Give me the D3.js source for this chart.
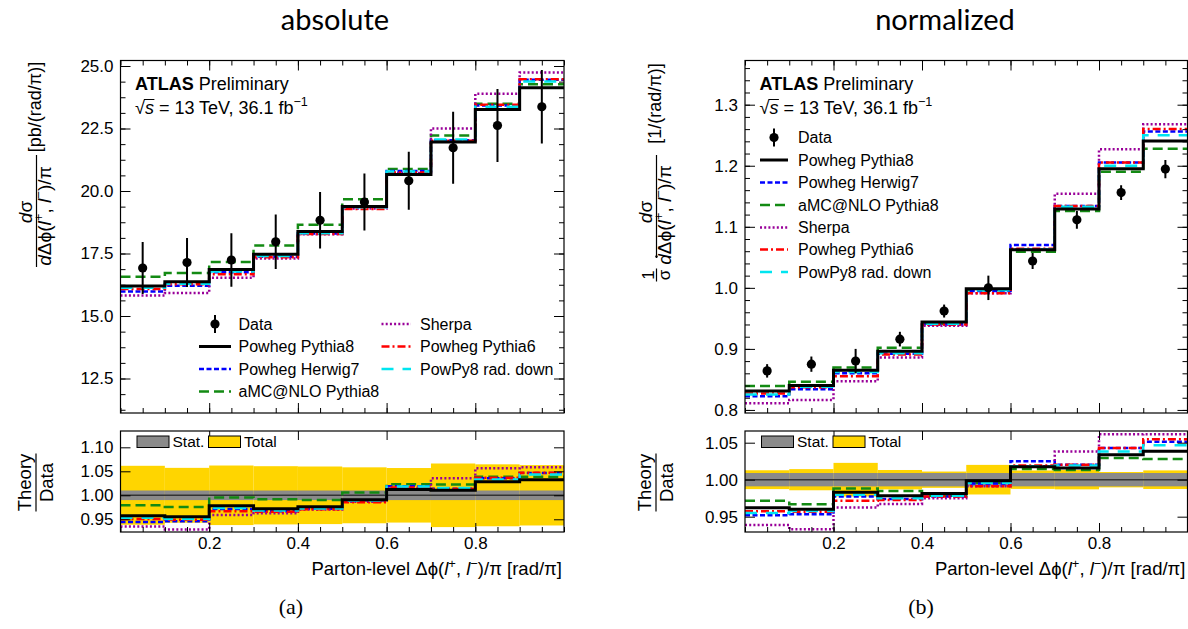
<!DOCTYPE html>
<html>
<head>
<meta charset="utf-8">
<script src="https://cdn.jsdelivr.net/npm/d3@7"></script>
<style>
  html, body { margin: 0; padding: 0; background: #fff; }
  svg { display: block; }
</style>
</head>
<body>
<svg id="fig" width="1188" height="629"></svg>
<script>
// ---- binning and axis ticks ----
const binEdges = [0, 0.1, 0.2, 0.3, 0.4, 0.5, 0.6, 0.7, 0.8, 0.9, 1.0];
const xTickValues = [0.2, 0.4, 0.6, 0.8];
const absYTicks = [12.5, 15.0, 17.5, 20.0, 22.5, 25.0];
const normYTicks = [0.8, 0.9, 1.0, 1.1, 1.2, 1.3];
const absRatioTicks = [0.95, 1.00, 1.05, 1.10];
const normRatioTicks = [0.95, 1.00, 1.05];

const seriesNames = ["Powheg Pythia8", "Powheg Herwig7", "aMC@NLO Pythia8",
                     "Sherpa", "Powheg Pythia6", "PowPy8 rad. down"];

// ---- absolute cross-section [pb/(rad/pi)] ----
const absData          = [16.92, 17.14, 17.24, 17.97, 18.83, 19.56, 20.41, 21.73, 22.62, 23.37];
const absDataErr       = [1.04, 0.98, 1.07, 1.09, 1.13, 1.14, 1.16, 1.44, 1.46, 1.47];
const absStatRel       = [0.010, 0.010, 0.010, 0.010, 0.010, 0.010, 0.010, 0.010, 0.010, 0.010];
const absPowhegPythia8 = [16.20, 16.37, 16.86, 17.47, 18.38, 19.38, 20.66, 21.96, 23.26, 24.13];
const absPowhegHerwig7 = [15.98, 16.21, 16.75, 17.37, 18.30, 19.36, 20.80, 22.03, 23.42, 24.45];
const absAmcPythia8    = [16.57, 16.72, 17.16, 17.82, 18.65, 19.67, 20.88, 22.22, 23.49, 24.27];
const absSherpa        = [15.82, 15.92, 16.53, 17.30, 18.27, 19.30, 20.72, 22.50, 23.89, 24.74];
const absPowhegPythia6 = [16.08, 16.27, 16.67, 17.35, 18.28, 19.28, 20.74, 22.01, 23.45, 24.47];
const absPowPy8RadDown = [16.13, 16.29, 16.78, 17.40, 18.31, 19.35, 20.78, 22.06, 23.37, 24.38];

// ---- normalized cross-section [1/(rad/pi)] ----
const normData          = [0.864, 0.875, 0.880, 0.916, 0.962, 1.000, 1.044, 1.1115, 1.156, 1.1946];
const normDataErr       = [0.011, 0.0125, 0.020, 0.012, 0.0106, 0.020, 0.013, 0.0145, 0.012, 0.015];
const normStatRel       = [0.009, 0.009, 0.009, 0.009, 0.009, 0.009, 0.009, 0.009, 0.009, 0.009];
const normPowhegPythia8 = [0.8312, 0.840, 0.865, 0.896, 0.944, 0.9984, 1.0623, 1.129, 1.195, 1.2405];
const normPowhegHerwig7 = [0.8225, 0.834, 0.860, 0.892, 0.940, 0.995, 1.070, 1.134, 1.2055, 1.256];
const normAmcPythia8    = [0.8393, 0.846, 0.8695, 0.902, 0.941, 0.996, 1.059, 1.126, 1.190, 1.228];
const normSherpa        = [0.811, 0.8164, 0.847, 0.886, 0.938, 0.991, 1.063, 1.154, 1.227, 1.268];
const normPowhegPythia6 = [0.827, 0.837, 0.855, 0.891, 0.940, 0.991, 1.064, 1.134, 1.2055, 1.260];
const normPowPy8RadDown = [0.8252, 0.838, 0.862, 0.893, 0.941, 0.996, 1.063, 1.133, 1.200, 1.250];

// ---- line styles per prediction ----
const seriesStyle = [
  { color: "#000000", dash: null,      width: 3.0 },
  { color: "#0000ff", dash: "5,2.5",   width: 2.5 },
  { color: "#138a13", dash: "10,5",    width: 2.5 },
  { color: "#990099", dash: "2,2.2",   width: 2.5 },
  { color: "#ff0000", dash: "8,3,2,3", width: 2.5 },
  { color: "#00e5f0", dash: "12,9",    width: 2.5 }
];
const drawOrder = [2, 1, 3, 4, 5, 0];

const FONT = "'Liberation Sans', Arial, Helvetica, sans-serif";
const svg = d3.select("#fig").attr("font-family", FONT);

// rich text: segments with italic / superscript pieces
function rich(sel, segs, size) {
  let shift = 0;
  segs.forEach(s => {
    const ts = sel.append("tspan").text(s.t);
    const target = s.sup ? -size * 0.4 : 0;
    if (target !== shift) { ts.attr("dy", target - shift); shift = target; }
    if (s.sup) ts.attr("font-size", size * 0.7);
    if (s.i) ts.attr("font-style", "italic");
    if (s.b) ts.attr("font-weight", "bold");
  });
  return sel;
}

const panels = [
  {
    x0: 120.5, x1: 564, topY: [60.5, 413], ratY: [431, 532],
    yDomain: [11.12, 25.22], rDomain: [0.9235, 1.134],
    yTicks: absYTicks, yMinor: 0.625, yFmt: ".1f",
    rTicks: absRatioTicks,
    data: absData, err: absDataErr, stat: absStatRel,
    series: [absPowhegPythia8, absPowhegHerwig7, absAmcPythia8, absSherpa, absPowhegPythia6, absPowPy8RadDown],
    title: "absolute", titleX: 335, tag: "(a)", tagX: 291, kind: "abs"
  },
  {
    x0: 745, x1: 1187.5, topY: [60.5, 413], ratY: [431, 532],
    yDomain: [0.795, 1.3724], rDomain: [0.9293, 1.0658],
    yTicks: normYTicks, yMinor: 0.02, yFmt: ".1f",
    rTicks: normRatioTicks,
    data: normData, err: normDataErr, stat: normStatRel,
    series: [normPowhegPythia8, normPowhegHerwig7, normAmcPythia8, normSherpa, normPowhegPythia6, normPowPy8RadDown],
    title: "normalized", titleX: 945, tag: "(b)", tagX: 921, kind: "norm"
  }
];

function styleAxis(g, fontSize) {
  g.select(".domain").remove();
  g.selectAll(".tick line").attr("stroke", "#000").attr("stroke-width", 1);
  g.selectAll(".tick text").attr("font-family", FONT).attr("font-size", fontSize).attr("fill", "#000");
  g.attr("font-family", null).attr("font-size", null);
}

function stepPoints(vals) {
  return binEdges.map((e, i) => [e, vals[Math.min(i, vals.length - 1)]]);
}

function minorRange(domain, step) {
  const s = Math.ceil(domain[0] / step - 1e-9), e = Math.floor(domain[1] / step + 1e-9);
  return d3.range(s, e + 1).map(k => +(k * step).toFixed(6));
}

panels.forEach((p, pi) => {
  const x = d3.scaleLinear().domain([0, 1]).range([p.x0, p.x1]);
  const y = d3.scaleLinear().domain(p.yDomain).range([p.topY[1], p.topY[0]]);
  const r = d3.scaleLinear().domain(p.rDomain).range([p.ratY[1], p.ratY[0]]);
  const g = svg.append("g");

  // panel title and tag
  g.append("text").attr("x", p.titleX).attr("y", 30).attr("text-anchor", "middle")
    .attr("font-family", "Lato, 'Open Sans', sans-serif").attr("font-size", 29).text(p.title);
  g.append("text").attr("x", p.tagX).attr("y", 614).attr("text-anchor", "middle")
    .attr("font-family", "'Liberation Serif', 'Times New Roman', serif").attr("font-size", 22).text(p.tag);

  // clip regions
  const clipTop = "clipTop" + pi, clipRat = "clipRat" + pi;
  svg.append("clipPath").attr("id", clipTop).append("rect")
    .attr("x", p.x0).attr("y", p.topY[0]).attr("width", p.x1 - p.x0).attr("height", p.topY[1] - p.topY[0]);
  svg.append("clipPath").attr("id", clipRat).append("rect")
    .attr("x", p.x0).attr("y", p.ratY[0]).attr("width", p.x1 - p.x0).attr("height", p.ratY[1] - p.ratY[0]);

  // ======== upper panel ========
  const top = g.append("g");
  const line = d3.line().x(d => x(d[0])).y(d => y(d[1])).curve(d3.curveStepAfter);
  const tl = top.append("g").attr("clip-path", `url(#${clipTop})`);
  drawOrder.forEach(si => {
    const st = seriesStyle[si];
    tl.append("path").attr("d", line(stepPoints(p.series[si])))
      .attr("fill", "none").attr("stroke", st.color).attr("stroke-width", st.width)
      .attr("stroke-dasharray", st.dash).attr("stroke-linejoin", "miter").attr("stroke-linecap", "butt");
  });
  // data points with total uncertainty
  const centers = p.data.map((v, i) => (binEdges[i] + binEdges[i + 1]) / 2);
  tl.selectAll("line.err").data(p.data).join("line")
    .attr("x1", (d, i) => x(centers[i])).attr("x2", (d, i) => x(centers[i]))
    .attr("y1", (d, i) => y(d - p.err[i])).attr("y2", (d, i) => y(d + p.err[i]))
    .attr("stroke", "#000").attr("stroke-width", 2);
  tl.selectAll("circle.pt").data(p.data).join("circle")
    .attr("cx", (d, i) => x(centers[i])).attr("cy", d => y(d)).attr("r", 4.6).attr("fill", "#000");

  // axes of upper panel (ticks inside, mirrored)
  const ax = top.append("g");
  styleAxis(ax.append("g").attr("transform", `translate(${p.x0},0)`)
    .call(d3.axisLeft(y).tickValues(minorRange(p.yDomain, p.yMinor)).tickSize(-5).tickFormat("")), 17);
  styleAxis(ax.append("g").attr("transform", `translate(${p.x0},0)`)
    .call(d3.axisLeft(y).tickValues(p.yTicks).tickSize(-10).tickPadding(7).tickFormat(d3.format(p.yFmt))), 17);
  styleAxis(ax.append("g").attr("transform", `translate(${p.x1},0)`)
    .call(d3.axisRight(y).tickValues(minorRange(p.yDomain, p.yMinor)).tickSize(-5).tickFormat("")), 17);
  styleAxis(ax.append("g").attr("transform", `translate(${p.x1},0)`)
    .call(d3.axisRight(y).tickValues(p.yTicks).tickSize(-10).tickFormat("")), 17);
  [[p.topY[1], d3.axisBottom], [p.topY[0], d3.axisTop]].forEach(([yy, fn]) => {
    styleAxis(ax.append("g").attr("transform", `translate(0,${yy})`)
      .call(fn(x).tickValues(minorRange([0, 1], 0.05)).tickSize(-5).tickFormat("")), 17);
    styleAxis(ax.append("g").attr("transform", `translate(0,${yy})`)
      .call(fn(x).tickValues(xTickValues).tickSize(-10).tickFormat("")), 17);
  });
  top.append("rect").attr("x", p.x0).attr("y", p.topY[0])
    .attr("width", p.x1 - p.x0).attr("height", p.topY[1] - p.topY[0])
    .attr("fill", "none").attr("stroke", "#000").attr("stroke-width", 1.2);

  // ATLAS label
  const lx = p.x0 + 14.5;
  rich(top.append("text").attr("x", lx).attr("y", 89.5).attr("font-size", 18),
       [{ t: "ATLAS", b: true }, { t: " Preliminary" }], 18);
  const en = rich(top.append("text").attr("x", lx).attr("y", 113.5).attr("font-size", 18),
       [{ t: "√" }, { t: "s", i: true }, { t: " = 13 TeV, 36.1 fb" }, { t: "−1", sup: true }], 18);
  const sx0 = en.node().getStartPositionOfChar(1).x, sx1 = en.node().getEndPositionOfChar(1).x;
  top.append("line").attr("x1", sx0 - 1).attr("x2", sx1 + 0.5).attr("y1", 99.5).attr("y2", 99.5)
    .attr("stroke", "#000").attr("stroke-width", 1);

  // legend
  let items;
  if (p.kind === "abs") {
    items = [
      { data: true, lx0: 199, lx1: 231, tx: 238.5, y: 324 },
      { s: 0, lx0: 199, lx1: 231, tx: 238.5, y: 346.5 },
      { s: 1, lx0: 199, lx1: 231, tx: 238.5, y: 369 },
      { s: 2, lx0: 199, lx1: 231, tx: 238.5, y: 391.5 },
      { s: 3, lx0: 381.5, lx1: 411, tx: 420, y: 324 },
      { s: 4, lx0: 381.5, lx1: 411, tx: 420, y: 346.5 },
      { s: 5, lx0: 381.5, lx1: 411, tx: 420, y: 369 }
    ];
  } else {
    const rows = [137.5, 160, 182.5, 205, 227.5, 249.5, 272];
    items = [{ data: true, lx0: 760, lx1: 788, tx: 798, y: rows[0] }]
      .concat(d3.range(6).map(k => ({ s: k, lx0: 760, lx1: 788, tx: 798, y: rows[k + 1] })));
  }
  const lg = top.append("g");
  items.forEach(it => {
    if (it.data) {
      const cx = (it.lx0 + it.lx1) / 2;
      lg.append("line").attr("x1", cx).attr("x2", cx).attr("y1", it.y - 9).attr("y2", it.y + 9)
        .attr("stroke", "#000").attr("stroke-width", 2);
      lg.append("circle").attr("cx", cx).attr("cy", it.y).attr("r", 4.6).attr("fill", "#000");
      lg.append("text").attr("x", it.tx).attr("y", it.y + 5.5).attr("font-size", 16).text("Data");
    } else {
      const st = seriesStyle[it.s];
      lg.append("line").attr("x1", it.lx0).attr("x2", it.lx1).attr("y1", it.y).attr("y2", it.y)
        .attr("stroke", st.color).attr("stroke-width", st.width).attr("stroke-dasharray", st.dash);
      lg.append("text").attr("x", it.tx).attr("y", it.y + 5.5).attr("font-size", 16).text(seriesNames[it.s]);
    }
  });

  // ======== ratio panel ========
  const rat = g.append("g");
  const rl = rat.append("g").attr("clip-path", `url(#${clipRat})`);
  const totRel = p.data.map((d, i) => p.err[i] / d);
  rl.selectAll("rect.tot").data(totRel).join("rect")
    .attr("x", (d, i) => x(binEdges[i])).attr("width", (d, i) => x(binEdges[i + 1]) - x(binEdges[i]))
    .attr("y", d => r(1 + d)).attr("height", d => r(1 - d) - r(1 + d)).attr("fill", "#ffd500");
  rl.selectAll("rect.stat").data(p.stat).join("rect")
    .attr("x", (d, i) => x(binEdges[i])).attr("width", (d, i) => x(binEdges[i + 1]) - x(binEdges[i]))
    .attr("y", d => r(1 + d)).attr("height", d => r(1 - d) - r(1 + d)).attr("fill", "#8a8a8a");
  rl.append("line").attr("x1", p.x0).attr("x2", p.x1).attr("y1", r(1)).attr("y2", r(1))
    .attr("stroke", "#333").attr("stroke-width", 1.5);
  const rline = d3.line().x(d => x(d[0])).y(d => r(d[1])).curve(d3.curveStepAfter);
  drawOrder.forEach(si => {
    const st = seriesStyle[si];
    const ratio = p.series[si].map((v, i) => v / p.data[i]);
    rl.append("path").attr("d", rline(stepPoints(ratio)))
      .attr("fill", "none").attr("stroke", st.color).attr("stroke-width", st.width)
      .attr("stroke-dasharray", st.dash).attr("stroke-linecap", "butt");
  });

  const rax = rat.append("g");
  styleAxis(rax.append("g").attr("transform", `translate(${p.x0},0)`)
    .call(d3.axisLeft(r).tickValues(p.rTicks).tickSize(-10).tickPadding(7).tickFormat(d3.format(".2f"))), 17);
  styleAxis(rax.append("g").attr("transform", `translate(${p.x1},0)`)
    .call(d3.axisRight(r).tickValues(p.rTicks).tickSize(-10).tickFormat("")), 17);
  styleAxis(rax.append("g").attr("transform", `translate(0,${p.ratY[1]})`)
    .call(d3.axisBottom(x).tickValues(minorRange([0, 1], 0.05)).tickSize(-5).tickFormat("")), 17);
  styleAxis(rax.append("g").attr("transform", `translate(0,${p.ratY[1]})`)
    .call(d3.axisBottom(x).tickValues(xTickValues).tickSize(-9).tickPadding(5).tickFormat(d3.format(".1f"))), 17);
  styleAxis(rax.append("g").attr("transform", `translate(0,${p.ratY[0]})`)
    .call(d3.axisTop(x).tickValues(xTickValues).tickSize(-9).tickFormat("")), 17);
  rat.append("rect").attr("x", p.x0).attr("y", p.ratY[0])
    .attr("width", p.x1 - p.x0).attr("height", p.ratY[1] - p.ratY[0])
    .attr("fill", "none").attr("stroke", "#000").attr("stroke-width", 1.2);

  // ratio legend
  const bx = p.x0 + 16.5;
  rat.append("rect").attr("x", bx).attr("y", 436).attr("width", 32).attr("height", 11.5)
    .attr("fill", "#8a8a8a").attr("stroke", "#000").attr("stroke-width", 1);
  rat.append("text").attr("x", bx + 35.5).attr("y", 447).attr("font-size", 15.5).text("Stat.");
  rat.append("rect").attr("x", bx + 71.5).attr("y", 436).attr("width", 32).attr("height", 11.5)
    .attr("fill", "#ffd500").attr("stroke", "#000").attr("stroke-width", 1);
  rat.append("text").attr("x", bx + 107).attr("y", 447).attr("font-size", 15.5).text("Total");

  // x-axis title
  rich(rat.append("text").attr("x", p.x1 - 2).attr("y", 575).attr("text-anchor", "end").attr("font-size", 18.5),
    [{ t: "Parton-level " }, { t: "Δϕ(" }, { t: "l", i: true }, { t: "+", sup: true },
     { t: ", " }, { t: "l", i: true }, { t: "−", sup: true }, { t: ")/π [rad/π]" }], 18.5);

  // y-axis titles (rotated)
  const off = pi === 0 ? 0 : 620;
  const yt = g.append("g").attr("transform", `translate(${off + 36.5},${pi === 0 ? 211 : 206.5}) rotate(-90)`);
  const half = pi === 0 ? 56 : 51.5;
  yt.append("line").attr("x1", -half).attr("x2", half).attr("y1", 0).attr("y2", 0)
    .attr("stroke", "#000").attr("stroke-width", 1.2);
  rich(yt.append("text").attr("x", pi === 0 ? -1 : -5.5).attr("y", -4.5).attr("text-anchor", "middle").attr("font-size", 19),
    [{ t: "d", i: true }, { t: "σ" }], 19);
  rich(yt.append("text").attr("x", pi === 0 ? -5 : -8.5).attr("y", 14).attr("text-anchor", "middle").attr("font-size", 19),
    [{ t: "d", i: true }, { t: "Δϕ(" }, { t: "l", i: true }, { t: "+", sup: true }, { t: ", " },
     { t: "l", i: true }, { t: "−", sup: true }, { t: ")/π" }], 19);
  yt.append("text").attr("x", pi === 0 ? 104 : 103).attr("y", 4).attr("text-anchor", "middle")
    .attr("font-size", 18).text(pi === 0 ? "[pb/(rad/π)]" : "[1/(rad/π)]");
  if (pi === 1) {
    const pre = yt.append("g").attr("transform", "translate(-68.5,0)");
    pre.append("text").attr("x", 0).attr("y", -3).attr("text-anchor", "middle").attr("font-size", 17).text("1");
    pre.append("line").attr("x1", -6.5).attr("x2", 6.5).attr("y1", 0).attr("y2", 0)
      .attr("stroke", "#000").attr("stroke-width", 1.2);
    pre.append("text").attr("x", 0).attr("y", 13).attr("text-anchor", "middle").attr("font-size", 17).text("σ");
    yt.append("circle").attr("cx", -50).attr("cy", 0).attr("r", 1.2).attr("fill", "#000");
  }
  // ratio y-axis title
  const rt = g.append("g").attr("transform", `translate(${off + 36},482.5) rotate(-90)`);
  rt.append("line").attr("x1", -29).attr("x2", 29).attr("y1", 0).attr("y2", 0)
    .attr("stroke", "#000").attr("stroke-width", 1.2);
  rt.append("text").attr("x", 0).attr("y", -5).attr("text-anchor", "middle").attr("font-size", 18.5).text("Theory");
  rt.append("text").attr("x", 0).attr("y", 17).attr("text-anchor", "middle").attr("font-size", 18.5).text("Data");
});
</script>
</body>
</html>
